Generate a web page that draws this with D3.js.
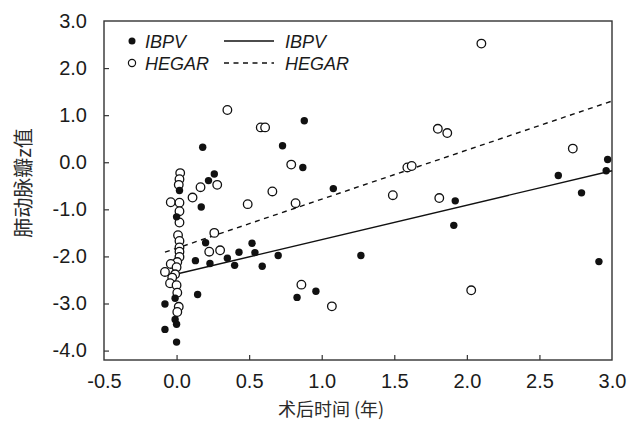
<!DOCTYPE html>
<html>
<head>
<meta charset="utf-8">
<script src="https://cdn.jsdelivr.net/npm/d3@7"></script>
<style>
  html, body { margin: 0; padding: 0; background: #fff; }
  svg { display: block; }
</style>
</head>
<body>
<svg id="chart" width="628" height="431"></svg>
<script>
// Years after surgery and pulmonary valve z-scores, IBPV group (filled dots)
const ibpvYears = [0.88, 0.18, 0.73, 0.87, 0.26, 0.22, 1.08, 0.17, 0.20, 0.52, 0.43, 0.54,
  0.13, 0.23, 0.35, 0.40, 0.59, 0.70, 1.27, 0.145, 0.96, 0.83, 2.63, 2.97, 2.96, 1.92,
  1.91, 2.79, 2.91, 0.02, 0.0, -0.01, -0.08, -0.01, 0.0, -0.08, 0.0];
const ibpvZ = [0.88, 0.32, 0.35, -0.11, -0.25, -0.39, -0.56, -0.95, -1.71, -1.72, -1.91, -1.92,
  -2.09, -2.15, -2.04, -2.19, -2.21, -1.98, -1.98, -2.81, -2.74, -2.87, -0.28, 0.06, -0.18, -0.82,
  -1.34, -0.65, -2.11, -0.60, -1.16, -2.89, -3.01, -3.34, -3.44, -3.55, -3.82];

// HEGAR group (open circles)
const hegarYears = [0.35, 0.58, 0.61, 0.79, 0.28, 0.165, 0.11, 0.66, 0.49, 0.82, 0.26, 0.225,
  0.30, 0.86, 1.07, 2.10, 1.80, 1.865, 2.73, 1.59, 1.62, 1.49, 1.81, 2.03,
  0.025, 0.02, 0.015, -0.04, 0.02, 0.02, 0.02, 0.01, 0.02, 0.02, 0.02, 0.02, 0.005,
  -0.04, 0.0, -0.08, -0.01, -0.03, -0.045, 0.0, 0.005, 0.015, 0.005];
const hegarZ = [1.11, 0.74, 0.74, -0.05, -0.48, -0.53, -0.75, -0.62, -0.89, -0.87, -1.50, -1.90,
  -1.87, -2.60, -3.06, 2.52, 0.71, 0.62, 0.29, -0.11, -0.08, -0.70, -0.76, -2.72,
  -0.23, -0.36, -0.48, -0.85, -0.86, -1.04, -1.28, -1.55, -1.67, -1.81, -1.90, -2.01, -2.12,
  -2.16, -2.23, -2.33, -2.38, -2.45, -2.57, -2.61, -2.77, -3.07, -3.18];

// Linear trend lines (start / end)
const ibpvFitX = [-0.05, 3.0];
const ibpvFitZ = [-2.41, -0.18];
const hegarFitX = [-0.08, 3.0];
const hegarFitZ = [-1.91, 1.30];

const xTicks = [-0.5, 0.0, 0.5, 1.0, 1.5, 2.0, 2.5, 3.0];
const yTicks = [3.0, 2.0, 1.0, 0.0, -1.0, -2.0, -3.0, -4.0];

const xTitle = "术后时间 (年)";
const yTitle = "肺动脉瓣z值";
const seriesNames = ["IBPV", "HEGAR"];

const W = 628, H = 431;
const margin = { left: 104, right: 16, top: 21, bottom: 71 };
const svg = d3.select("#chart");

const x = d3.scaleLinear().domain([-0.5, 3.0]).range([margin.left, W - margin.right]);
const y = d3.scaleLinear().domain([-4.2, 3.0]).range([H - margin.bottom, margin.top]);

const ink = "#1b1b1b";
const numFont = "'Liberation Sans', Arial, Helvetica, sans-serif";
const cjkFont = "'Noto Sans CJK SC', sans-serif";
const fmt = d => d.toFixed(1);   // plain hyphen for negatives

// frame
svg.append("rect")
  .attr("x", x.range()[0]).attr("y", y.range()[1])
  .attr("width", x.range()[1] - x.range()[0])
  .attr("height", y.range()[0] - y.range()[1])
  .attr("fill", "none").attr("stroke", "#333").attr("stroke-width", 1.4);

// axes with inward ticks
const xAxis = d3.axisBottom(x).tickValues(xTicks).tickSizeInner(-5).tickSizeOuter(0)
  .tickPadding(14).tickFormat(fmt);
const gx = svg.append("g").attr("transform", `translate(0,${y.range()[0]})`).call(xAxis);
gx.select(".domain").remove();
gx.selectAll(".tick line").attr("stroke", "#333").attr("stroke-width", 1.2)
  .filter(d => d === -0.5 || d === 3.0).remove();
gx.selectAll(".tick text").attr("font-family", numFont).attr("font-size", 20).attr("fill", ink);

const yAxis = d3.axisLeft(y).tickValues(yTicks).tickSizeInner(-5).tickSizeOuter(0)
  .tickPadding(17).tickFormat(fmt);
const gy = svg.append("g").attr("transform", `translate(${x.range()[0]},0)`).call(yAxis);
gy.select(".domain").remove();
gy.selectAll(".tick line").attr("stroke", "#333").attr("stroke-width", 1.2)
  .filter(d => d === 3.0).remove();
gy.selectAll(".tick text").attr("font-family", numFont).attr("font-size", 20).attr("fill", ink);

// axis titles
svg.append("text")
  .attr("x", 331).attr("y", 416)
  .attr("text-anchor", "middle")
  .attr("font-family", cjkFont).attr("font-size", 18).attr("fill", "#2a2a2a")
  .text(xTitle);
svg.append("text")
  .attr("transform", "translate(31,183) rotate(-90)")
  .attr("text-anchor", "middle")
  .attr("font-family", cjkFont).attr("font-size", 20).attr("fill", "#2a2a2a")
  .text(yTitle);

// trend lines
const line = d3.line().x(d => x(d[0])).y(d => y(d[1]));
svg.append("path")
  .datum(d3.zip(ibpvFitX, ibpvFitZ))
  .attr("d", line).attr("fill", "none").attr("stroke", "#111").attr("stroke-width", 1.4);
svg.append("path")
  .datum(d3.zip(hegarFitX, hegarFitZ))
  .attr("d", line).attr("fill", "none").attr("stroke", "#111").attr("stroke-width", 1.4)
  .attr("stroke-dasharray", "5,4.5");

// points
svg.append("g").selectAll("circle")
  .data(d3.zip(hegarYears, hegarZ)).join("circle")
  .attr("cx", d => x(d[0])).attr("cy", d => y(d[1])).attr("r", 4.3)
  .attr("fill", "#fff").attr("stroke", "#111").attr("stroke-width", 1.3);
svg.append("g").selectAll("circle")
  .data(d3.zip(ibpvYears, ibpvZ)).join("circle")
  .attr("cx", d => x(d[0])).attr("cy", d => y(d[1])).attr("r", 3.7)
  .attr("fill", "#111");

// legend
const lg = svg.append("g");
const rows = [41, 63];
lg.append("circle").attr("cx", 132).attr("cy", rows[0]).attr("r", 3.5).attr("fill", "#111");
lg.append("circle").attr("cx", 132).attr("cy", rows[1]).attr("r", 3.6)
  .attr("fill", "#fff").attr("stroke", "#111").attr("stroke-width", 1.2);
lg.append("line").attr("x1", 224).attr("x2", 274).attr("y1", rows[0]).attr("y2", rows[0])
  .attr("stroke", "#111").attr("stroke-width", 1.4);
lg.append("line").attr("x1", 224).attr("x2", 274).attr("y1", rows[1]).attr("y2", rows[1])
  .attr("stroke", "#111").attr("stroke-width", 1.4).attr("stroke-dasharray", "5,4.5");
[145, 285].forEach(tx => {
  seriesNames.forEach((name, i) => {
    lg.append("text").attr("x", tx).attr("y", rows[i] + 6.5)
      .attr("font-family", numFont).attr("font-style", "italic")
      .attr("font-size", 18).attr("fill", ink).text(name);
  });
});
</script>
</body>
</html>
